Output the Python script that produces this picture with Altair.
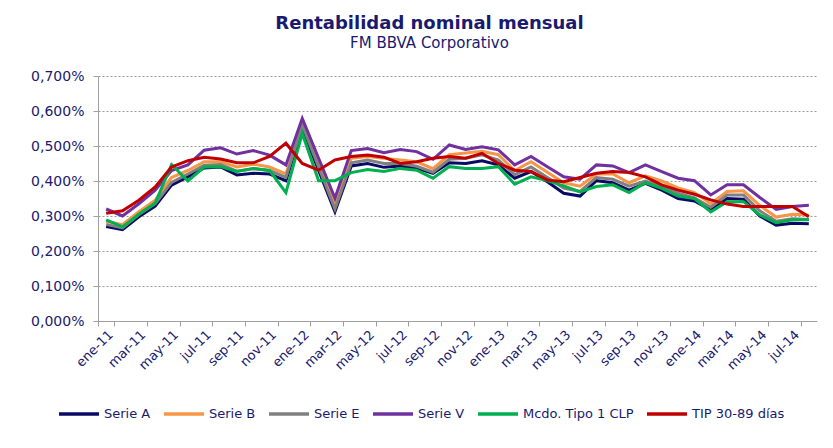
import altair as alt
import pandas as pd

mes_nombres = ["ene", "feb", "mar", "abr", "may", "jun", "jul", "ago", "sep", "oct", "nov", "dic"]
months = [f"{m}-{y}" for y in ["11", "12", "13"] for m in mes_nombres] + [f"{m}-14" for m in mes_nombres[:8]]

series_names = ["Serie A", "Serie B", "Serie E", "Serie V", "Mcdo. Tipo 1 CLP", "TIP 30-89 días"]
colors = ["#0A0A64", "#F79646", "#808080", "#7030A0", "#00B050", "#C00000"]

serie_a = [0.270, 0.261, 0.298, 0.328, 0.388, 0.412, 0.437, 0.440, 0.417, 0.422, 0.420, 0.401,
           0.551, 0.430, 0.312, 0.443, 0.450, 0.439, 0.443, 0.436, 0.422, 0.452, 0.450, 0.458,
           0.446, 0.408, 0.427, 0.398, 0.365, 0.357, 0.401, 0.395, 0.374, 0.393, 0.374, 0.350,
           0.343, 0.317, 0.350, 0.348, 0.300, 0.274, 0.279, 0.278]
serie_b = [0.285, 0.275, 0.312, 0.345, 0.410, 0.430, 0.455, 0.455, 0.440, 0.448, 0.440, 0.420,
           0.565, 0.450, 0.330, 0.465, 0.470, 0.465, 0.460, 0.455, 0.435, 0.475, 0.480, 0.485,
           0.475, 0.430, 0.455, 0.425, 0.395, 0.385, 0.420, 0.420, 0.395, 0.415, 0.400, 0.380,
           0.367, 0.335, 0.370, 0.372, 0.330, 0.297, 0.305, 0.303]
serie_e = [0.276, 0.266, 0.304, 0.335, 0.396, 0.420, 0.445, 0.447, 0.428, 0.435, 0.430, 0.410,
           0.560, 0.440, 0.320, 0.452, 0.460, 0.450, 0.450, 0.442, 0.425, 0.462, 0.465, 0.475,
           0.460, 0.418, 0.440, 0.410, 0.380, 0.370, 0.410, 0.405, 0.385, 0.400, 0.385, 0.365,
           0.352, 0.325, 0.360, 0.360, 0.315, 0.285, 0.292, 0.290]
serie_v = [0.320, 0.300, 0.335, 0.374, 0.430, 0.446, 0.488, 0.495, 0.477, 0.487, 0.474, 0.446,
           0.579, 0.465, 0.351, 0.487, 0.493, 0.481, 0.490, 0.484, 0.462, 0.503, 0.490, 0.498,
           0.489, 0.446, 0.470, 0.441, 0.412, 0.405, 0.446, 0.443, 0.424, 0.446, 0.427, 0.408,
           0.401, 0.360, 0.389, 0.389, 0.353, 0.319, 0.327, 0.331]
mcdo = [0.289, 0.269, 0.305, 0.337, 0.447, 0.400, 0.440, 0.441, 0.427, 0.436, 0.430, 0.367,
        0.536, 0.401, 0.401, 0.424, 0.433, 0.427, 0.436, 0.431, 0.408, 0.441, 0.436, 0.436,
        0.441, 0.391, 0.412, 0.401, 0.386, 0.369, 0.384, 0.389, 0.367, 0.395, 0.379, 0.357,
        0.350, 0.312, 0.341, 0.341, 0.303, 0.281, 0.289, 0.289]
tip = [0.308, 0.315, 0.345, 0.383, 0.440, 0.458, 0.468, 0.463, 0.452, 0.452, 0.470, 0.508,
       0.450, 0.431, 0.460, 0.470, 0.474, 0.468, 0.450, 0.455, 0.465, 0.470, 0.465, 0.479,
       0.450, 0.431, 0.427, 0.403, 0.398, 0.410, 0.422, 0.427, 0.424, 0.412, 0.389, 0.374,
       0.362, 0.346, 0.334, 0.327, 0.327, 0.327, 0.327, 0.298]

y_ticks = [0.0, 0.1, 0.2, 0.3, 0.4, 0.5, 0.6, 0.7]
label_months = months[::2]

rows = []
for name, vals in zip(series_names, [serie_a, serie_b, serie_e, serie_v, mcdo, tip]):
    for m, v in zip(months, vals):
        rows.append({"mes": m, "serie": name, "valor": v})
df = pd.DataFrame(rows)

NAVY = "#1A1A6E"
FONT = "DejaVu Sans"

chart = alt.Chart(df).mark_line(strokeWidth=3).encode(
    x=alt.X("mes:N", sort=months,
            scale=alt.Scale(type="band", paddingInner=0, paddingOuter=0),
            axis=alt.Axis(values=label_months, labelAngle=-45, tickBand="extent",
                          title=None, grid=False, labelColor=NAVY, labelFontSize=13,
                          labelFont=FONT, domainColor="#A0A0A0", tickColor="#A0A0A0",
                          tickSize=5, labelPadding=2)),
    y=alt.Y("valor:Q", scale=alt.Scale(domain=[0, 0.7]),
            axis=alt.Axis(values=y_ticks, title=None,
                          labelExpr="replace(format(datum.value, '.3f'), '.', ',') + '%'",
                          gridDash=[2, 2], gridColor="#9A9A9A", domainColor="#A0A0A0",
                          tickColor="#A0A0A0", tickSize=5, labelColor=NAVY,
                          labelFontSize=14, labelFont=FONT, labelPadding=9)),
    color=alt.Color("serie:N", sort=series_names,
                    scale=alt.Scale(domain=series_names, range=colors),
                    legend=alt.Legend(orient="none", legendX=-41, legendY=316,
                                      direction="horizontal", title=None,
                                      symbolType="stroke", symbolStrokeWidth=3.5,
                                      symbolSize=1600, labelFontSize=13, labelFont=FONT,
                                      labelColor=NAVY, columnPadding=6, labelOffset=3)),
).properties(
    width=719, height=245,
    autosize=alt.AutoSizeParams(type="none"),
    padding={"left": 90, "top": 68, "right": 8, "bottom": 119},
    title=alt.TitleParams(text="Rentabilidad nominal mensual", subtitle="FM BBVA Corporativo",
                          fontSize=18, font=FONT, fontWeight="bold", color=NAVY,
                          subtitleFontSize=15, subtitleFont=FONT, subtitleColor=NAVY,
                          subtitlePadding=3, anchor="middle", dx=-28, offset=18),
).configure_view(stroke=None)

chart.save("out.html", embed_options={"renderer": "svg", "actions": False})
